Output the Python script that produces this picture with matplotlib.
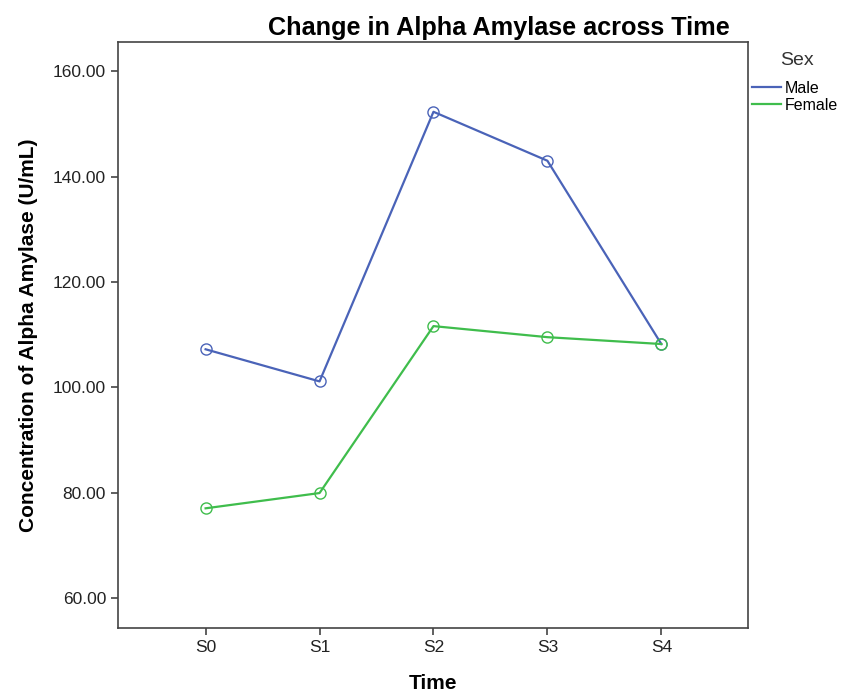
import matplotlib.pyplot as plt

# Mean alpha amylase by sampling time
times = ['S0', 'S1', 'S2', 'S3', 'S4']
male = [107.2, 101.1, 152.3, 143.0, 108.2]
female = [77.0, 79.9, 111.6, 109.5, 108.2]
yticks = [60, 80, 100, 120, 140, 160]

plt.rcParams['font.family'] = ['Liberation Sans', 'DejaVu Sans']

fig = plt.figure(figsize=(8.48, 6.93), dpi=100)
ax = fig.add_axes([0.139, 0.094, 0.743, 0.845])

x = range(len(times))
ax.plot(x, male, color='#4a63b8', lw=1.6, marker='o', markersize=8,
        markerfacecolor='none', markeredgewidth=1.0, label='Male')
ax.plot(x, female, color='#3fbd4c', lw=1.6, marker='o', markersize=8,
        markerfacecolor='none', markeredgewidth=1.0, label='Female')

ax.set_xlim(-0.77, 4.76)
ax.set_ylim(54.3, 165.5)
ax.set_xticks(list(x))
ax.set_xticklabels(times)
ax.set_yticks(yticks)
ax.set_yticklabels([f'{v:.2f}' for v in yticks])
ax.tick_params(labelsize=12.5, length=5, width=1.2, color='#444444',
               labelcolor='#222222')
for s in ax.spines.values():
    s.set_color('#444444')
    s.set_linewidth(1.2)

fig.text(0.588, 0.96, 'Change in Alpha Amylase across Time', fontsize=18.2,
         fontweight='bold', ha='center', va='center')
ax.set_xlabel('Time', fontsize=15, fontweight='bold', labelpad=14)
ax.set_ylabel('Concentration of Alpha Amylase (U/mL)', fontsize=15,
              fontweight='bold', labelpad=11)

fig.text(0.940, 0.913, 'Sex', fontsize=14, color='#333333', ha='center',
         va='center')
leg = fig.legend(loc='upper left', bbox_to_anchor=(0.887, 0.883), frameon=False,
                 fontsize=11.5, handlelength=1.8, handletextpad=0.25,
                 labelspacing=0.1, borderaxespad=0, borderpad=0)
for h in leg.legend_handles:
    h.set_marker('')
    h.set_linewidth(1.6)

plt.savefig('out.png', dpi=100)
